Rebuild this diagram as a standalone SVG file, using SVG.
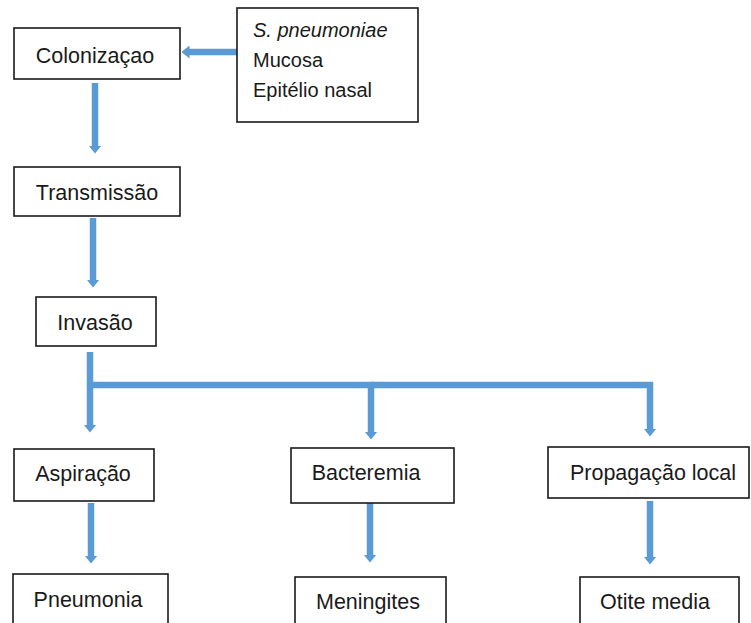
<svg xmlns="http://www.w3.org/2000/svg" width="751" height="623" viewBox="0 0 751 623">
<style>
.box{fill:#fff;stroke:#1a1a1a;stroke-width:1.6}
.t{font-family:"Liberation Sans",Arial,sans-serif;font-size:21.5px;fill:#1a1a1a;text-anchor:middle}
.s{font-family:"Liberation Sans",Arial,sans-serif;font-size:20px;fill:#1a1a1a}
.c{fill:none;stroke:#5B9BD5;stroke-width:6.5;stroke-linejoin:miter}
</style>
<defs>
<marker id="ah" markerUnits="userSpaceOnUse" viewBox="0 0 8 13" refX="0.5" refY="6.5" markerWidth="8" markerHeight="13" orient="auto">
<path d="M0,0 L8,6.5 L0,13 Z" fill="#5B9BD5"/>
</marker>
</defs>
<rect width="751" height="623" fill="#fff"/>
<g id="connectors">
<path class="c" d="M237 52 H189" marker-end="url(#ah)"/>
<path class="c" d="M95 83 V146" marker-end="url(#ah)"/>
<path class="c" d="M93 218 V280" marker-end="url(#ah)"/>
<path class="c" d="M90 352 V425" marker-end="url(#ah)"/>
<path class="c" d="M90 385 H371 V432" marker-end="url(#ah)"/>
<path class="c" d="M371 385 H650 V429" marker-end="url(#ah)"/>
<path class="c" d="M91 503 V556" marker-end="url(#ah)"/>
<path class="c" d="M370 503 V555" marker-end="url(#ah)"/>
<path class="c" d="M650 501 V557" marker-end="url(#ah)"/>
</g>
<g id="source">
<rect class="box" x="237" y="8" width="181" height="114"/>
<text class="s" x="253" y="37" font-style="italic">S. pneumoniae</text>
<text class="s" x="253" y="67">Mucosa</text>
<text class="s" x="253" y="97">Epitélio nasal</text>
</g>
<g id="colonizacao">
<rect class="box" x="14" y="28" width="166" height="51"/>
<text class="t" x="95" y="63">Colonizaçao</text>
</g>
<g id="transmissao">
<rect class="box" x="14" y="167" width="166" height="49"/>
<text class="t" x="97" y="200">Transmissão</text>
</g>
<g id="invasao">
<rect class="box" x="36" y="297" width="120" height="49"/>
<text class="t" x="95" y="330">Invasão</text>
</g>
<g id="aspiracao">
<rect class="box" x="14" y="449" width="140" height="52"/>
<text class="t" x="83" y="481">Aspiração</text>
</g>
<g id="bacteremia">
<rect class="box" x="291" y="448" width="163" height="55"/>
<text class="t" x="366" y="480">Bacteremia</text>
</g>
<g id="propagacao">
<rect class="box" x="548" y="447" width="201" height="51"/>
<text class="t" x="653" y="480">Propagação local</text>
</g>
<g id="pneumonia">
<rect class="box" x="13" y="574" width="155" height="60"/>
<text class="t" x="88" y="607">Pneumonia</text>
</g>
<g id="meningites">
<rect class="box" x="295" y="577" width="151" height="60"/>
<text class="t" x="368" y="609">Meningites</text>
</g>
<g id="otite">
<rect class="box" x="580" y="577" width="159" height="60"/>
<text class="t" x="655" y="609">Otite media</text>
</g>
</svg>
